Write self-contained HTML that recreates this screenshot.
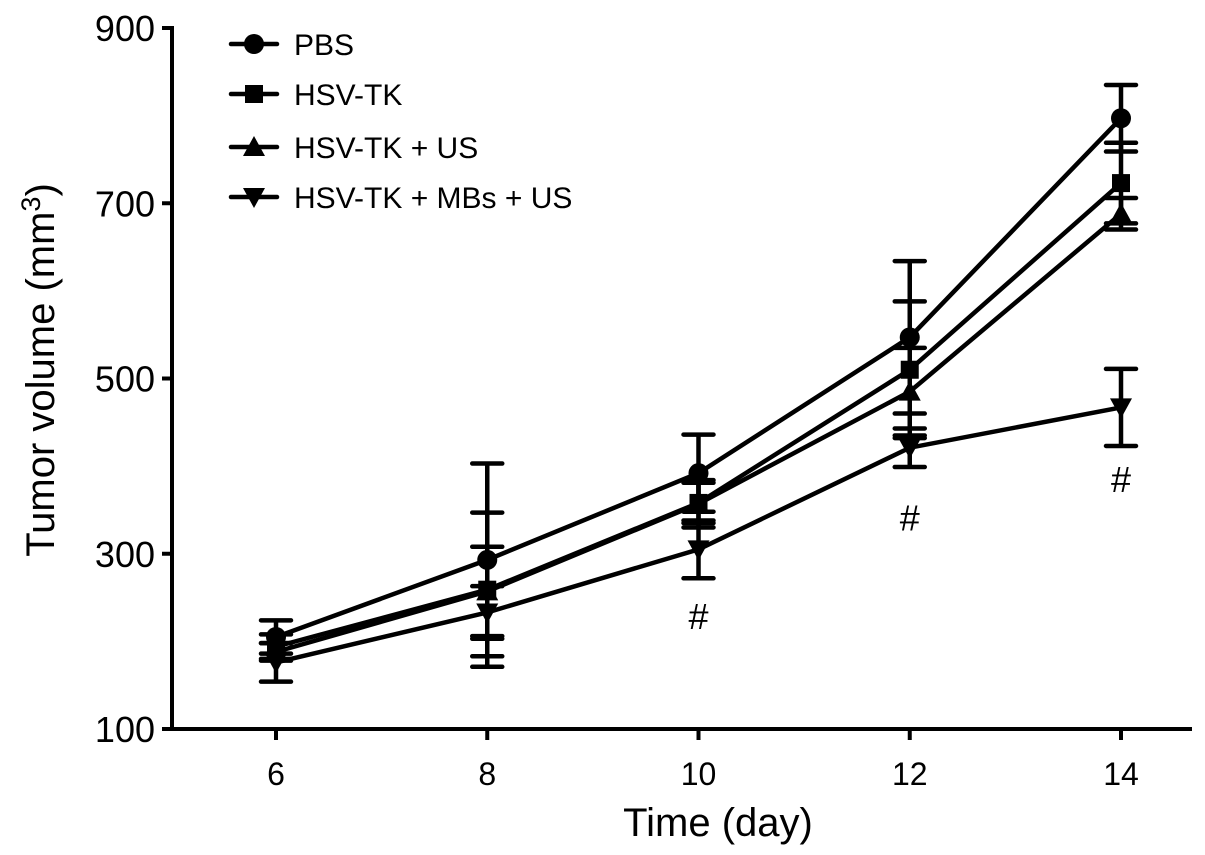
<!DOCTYPE html>
<html><head><meta charset="utf-8"><style>
html,body{margin:0;padding:0;background:#fff;}
svg{display:block;font-family:"Liberation Sans",Arial,sans-serif;}
</style></head><body>
<svg id="chart" width="1205" height="855" viewBox="0 0 1205 855">
<g id="axes"></g>
<g id="series"></g>
<g id="legend"></g>
</svg>
<script>
const days = [6, 8, 10, 12, 14];
const yTicks = [100, 300, 500, 700, 900];
const seriesNames = ["PBS", "HSV-TK", "HSV-TK + US", "HSV-TK + MBs + US"];
const pbsMean = [205, 293, 392, 547, 797];
const pbsErr = [19, 110, 44, 87, 38];
const tkMean = [194, 259, 358, 510, 723];
const tkErr = [14, 88, 23, 78, 46];
const usMean = [188, 257, 357, 485, 688];
const usErr = [10, 51, 27, 50, 18];
const mbMean = [176, 233, 305, 421, 467];
const mbErr = [22, 30, 33, 22, 44];
const hashDays = [10, 12, 14];
const hashVals = [228, 340, 384];

const NS = "http://www.w3.org/2000/svg";
const X0 = 172, Y0 = 729, Ytop = 28, Xend = 1192;
function xs(d){ return 276 + (d - 6) * (1121 - 276) / 8; }
function ys(v){ return Y0 - (v - 100) * (Y0 - Ytop) / 800; }
function mk(tag, attrs, parent){
  const e = document.createElementNS(NS, tag);
  for (const k in attrs) e.setAttribute(k, attrs[k]);
  parent.appendChild(e); return e;
}
const axes = document.getElementById("axes");
const ser = document.getElementById("series");
const leg = document.getElementById("legend");

let yl = mk("line", {x1:X0, y1:Ytop-2, x2:X0, y2:Y0+2, stroke:"#000","stroke-width":4}, axes);


let xl = mk("line", {x1:X0-2, y1:Y0, x2:Xend, y2:Y0, stroke:"#000","stroke-width":4}, axes);



yTicks.forEach(v => {
  const t = mk("line", {x1:X0-10, y1:ys(v), x2:X0, y2:ys(v), stroke:"#000","stroke-width":4}, axes);
  
  
  const l = mk("text", {x:155, y:ys(v)+13, "text-anchor":"end","font-size":36}, axes);
  l.textContent = v;
  
  
});
days.forEach(d => {
  const t = mk("line", {x1:xs(d), y1:Y0, x2:xs(d), y2:Y0+11, stroke:"#000","stroke-width":4}, axes);
  
  
  const l = mk("text", {x:xs(d), y:785, "text-anchor":"middle","font-size":32}, axes);
  l.textContent = d;
  
  
});
const xt = mk("text", {x:718, y:836, "text-anchor":"middle","font-size":40}, axes);
xt.textContent = "Time (day)";


const yt = mk("text", {x:0, y:0, "text-anchor":"middle","font-size":40, transform:"translate(54,370) rotate(-90)"}, axes);
yt.innerHTML = 'Tumor volume (mm<tspan dy="-14" font-size="27">3</tspan><tspan dy="14">)</tspan>';



function marker(type, cx, cy, parent){
  let e;
  if (type === 0) e = mk("circle", {cx:cx, cy:cy, r:10, fill:"#000"}, parent);
  else if (type === 1) e = mk("rect", {x:cx-9, y:cy-9, width:18, height:18, fill:"#000"}, parent);
  else if (type === 2) e = mk("polygon", {points:`${cx-11},${cy+9} ${cx+11},${cy+9} ${cx},${cy-11}`, fill:"#000"}, parent);
  else e = mk("polygon", {points:`${cx-11},${cy-9} ${cx+11},${cy-9} ${cx},${cy+11}`, fill:"#000"}, parent);
  return e;
}
const means = [pbsMean, tkMean, usMean, mbMean];
const errs = [pbsErr, tkErr, usErr, mbErr];
const keys = ["pbs", "hsv-tk", "hsv-tk-us", "hsv-tk-mbs-us"];
for (let s = 3; s >= 0; s--) {
  const g = mk("g", {}, ser);
  
  
  days.forEach((d, i) => {
    const x = xs(d), top = ys(means[s][i] + errs[s][i]), bot = ys(means[s][i] - errs[s][i]);
    const eb = mk("path", {d:`M${x},${top}V${bot}M${x-15},${top}H${x+15}M${x-15},${bot}H${x+15}`, stroke:"#000","stroke-width":4.5,"stroke-linecap":"round",fill:"none"}, g);
    
    
  });
  const pts = days.map((d, i) => xs(d) + "," + ys(means[s][i])).join(" ");
  const pl = mk("polyline", {points:pts, fill:"none", stroke:"#000","stroke-width":4.5}, g);
  
  
  days.forEach((d, i) => {
    const m = marker(s, xs(d), ys(means[s][i]), g);
    
    
  });
}
hashDays.forEach((d, i) => {
  const h = mk("text", {x:xs(d), y:ys(hashVals[i]) + 12, "text-anchor":"middle","font-size":36}, ser);
  h.textContent = "#";
  
  
});

const legY = [44, 94, 147, 197];
seriesNames.forEach((n, s) => {
  const g = mk("g", {}, leg);
  
  
  mk("line", {x1:231, y1:legY[s], x2:277, y2:legY[s], stroke:"#000","stroke-width":4.5,"stroke-linecap":"round"}, g);
  marker(s, 254, legY[s], g);
  const t = mk("text", {x:294, y:legY[s]+11, "font-size":30}, g);
  t.textContent = n;
  
  
});
</script>
</body></html>
